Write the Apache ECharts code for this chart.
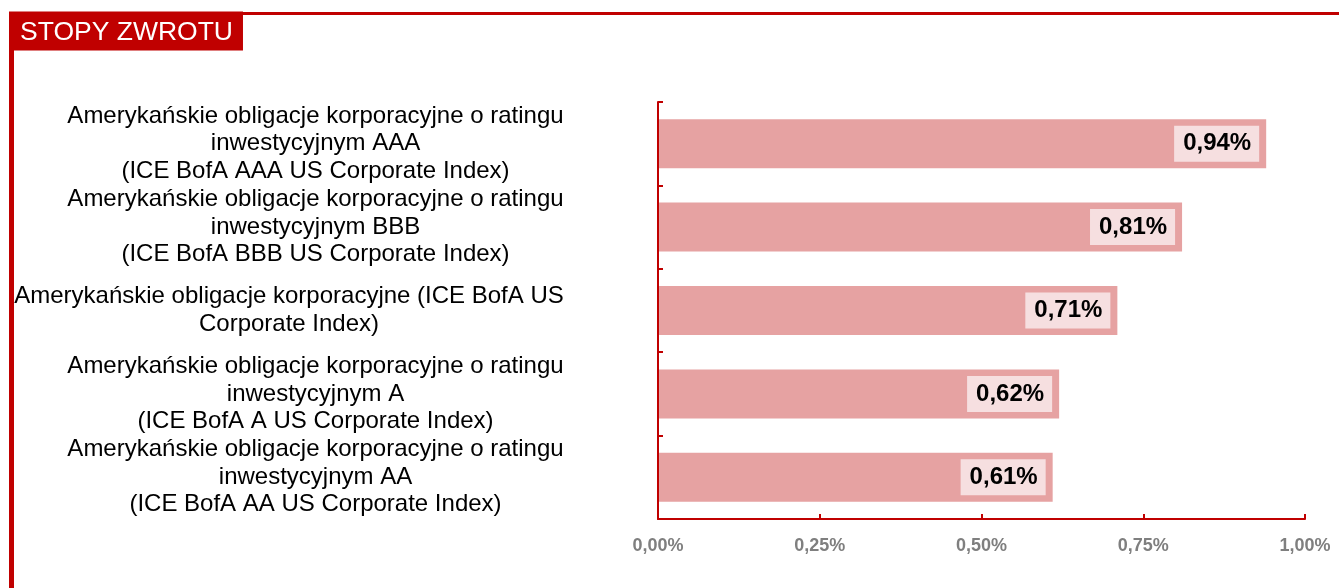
<!DOCTYPE html>
<html lang="pl">
<head>
    <meta charset="UTF-8">
    <title>Stopy zwrotu</title>
    <script type="text/javascript" src="https://cdn.jsdelivr.net/npm/echarts@6/dist/echarts.min.js"></script>
    <style>
        html, body { margin: 0; padding: 0; background: #fff; }
        #chart { width: 1339px; height: 588px; }
    </style>
</head>
<body>
<div id="chart"></div>
<script>
    // dane
    var categories = [
        'Amerykańskie obligacje korporacyjne o ratingu\ninwestycyjnym AAA\n(ICE BofA AAA US Corporate Index)',
        'Amerykańskie obligacje korporacyjne o ratingu\ninwestycyjnym BBB\n(ICE BofA BBB US Corporate Index)',
        'Amerykańskie obligacje korporacyjne (ICE BofA US\nCorporate Index)',
        'Amerykańskie obligacje korporacyjne o ratingu\ninwestycyjnym A\n(ICE BofA A US Corporate Index)',
        'Amerykańskie obligacje korporacyjne o ratingu\ninwestycyjnym AA\n(ICE BofA AA US Corporate Index)'
    ];
    var returns = [0.94, 0.81, 0.71, 0.62, 0.61];
    var xTicks = [0, 0.25, 0.5, 0.75, 1];

    var red = '#C00000';
    var labelFont = '"Liberation Sans", Arial, sans-serif';

    function pct(v) {
        return v.toFixed(2).replace('.', ',') + '%';
    }

    // kazda etykieta: blok wysrodkowany, wyrownany do prawej
    var ctx = document.createElement('canvas').getContext('2d');
    ctx.font = '24px ' + labelFont;
    var rich = {};
    categories.forEach(function (c, i) {
        var w = 0;
        c.split('\n').forEach(function (line) {
            w = Math.max(w, ctx.measureText(line).width);
        });
        rich['l' + i] = {
            width: Math.ceil(w),
            align: 'center',
            fontSize: 24,
            lineHeight: 27.5,
            fontFamily: labelFont,
            color: '#000'
        };
    });

    var mychart = echarts.init(document.getElementById('chart'));
    var option = {
        animation: false,
        title: {
            text: 'STOPY ZWROTU',
            left: 9,
            top: 12,
            backgroundColor: red,
            padding: [8, 10, 4, 11],
            textStyle: {
                color: '#fff',
                fontSize: 26.5,
                fontWeight: 'normal',
                lineHeight: 26,
                fontFamily: labelFont
            }
        },
        graphic: [
            { type: 'rect', shape: { x: 9, y: 12, width: 1330, height: 3 }, style: { fill: red } },
            { type: 'rect', shape: { x: 9, y: 12, width: 5, height: 576 }, style: { fill: red } }
        ],
        grid: {
            left: 658,
            right: 34,
            top: 102,
            bottom: 69,
            outerBoundsMode: 'none'
        },
        xAxis: {
            type: 'value',
            min: xTicks[0],
            max: xTicks[xTicks.length - 1],
            interval: 0.25,
            axisLine: { show: true, lineStyle: { color: red, width: 2 } },
            axisTick: { show: true, inside: true, length: 5, lineStyle: { color: red, width: 2 } },
            splitLine: { show: false },
            axisLabel: {
                margin: 18,
                color: '#7F7F7F',
                fontWeight: 'bold',
                fontSize: 18,
                fontFamily: labelFont,
                formatter: function (v) { return pct(v); }
            }
        },
        yAxis: {
            type: 'category',
            inverse: true,
            z: 3,
            data: categories,
            axisLine: { show: true, lineStyle: { color: red, width: 2 } },
            axisTick: { show: true, inside: true, length: 5, lineStyle: { color: red, width: 2 } },
            axisLabel: {
                margin: 94,
                formatter: function (value, idx) {
                    return value.split('\n').map(function (line) {
                        return '{l' + idx + '|' + line + '}';
                    }).join('\n');
                },
                rich: rich
            }
        },
        series: [{
            type: 'bar',
            data: returns,
            barWidth: 49,
            itemStyle: { color: '#E6A2A2' },
            label: {
                show: true,
                position: 'insideRight',
                distance: 7,
                backgroundColor: '#F6DFE0',
                padding: [6, 8, 6, 9],
                color: '#000',
                fontWeight: 'bold',
                fontSize: 24,
                lineHeight: 24,
                fontFamily: labelFont,
                formatter: function (p) { return pct(p.value); }
            }
        }]
    };
    mychart.setOption(option);
</script>
</body>
</html>
